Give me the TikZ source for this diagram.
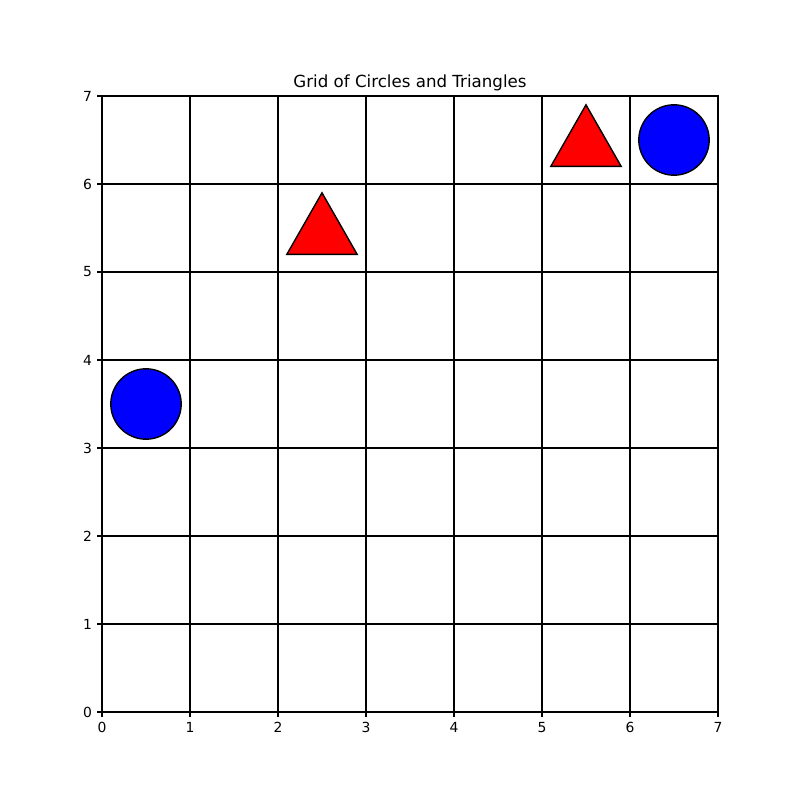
\documentclass[tikz,border=0pt]{standalone}
\usepackage{fontspec}
\setmainfont{DejaVu Sans}
\begin{document}
\begin{tikzpicture}[x=63.36pt,y=63.36pt,
  gridline/.style={line width=0.8pt,black},
  tickline/.style={line width=0.8pt,black},
  ticklab/.style={inner sep=0pt,font=\fontsize{10}{12}\selectfont},
  circ/.style={fill=blue,draw=black,line width=1pt},
  tri/.style={fill=red,draw=black,line width=1pt,line join=miter}]
\useasboundingbox (-1.159091,-1) rectangle (7.931818,8.090909);
\foreach \i in {1,...,6}{
  \draw[gridline] (\i,0) -- (\i,7);
  \draw[gridline] (0,\i) -- (7,\i);
}
\draw[gridline] (0,0) rectangle (7,7);
\foreach \i in {0,...,7}{
  \draw[tickline] (\i,0) -- ++(0,-3.5pt) coordinate (bx\i);
  \node[ticklab,anchor=north] (xl\i) at ([yshift=-3.5pt]bx\i) {\i};
  \draw[tickline] (0,\i) -- ++(-3.5pt,0) coordinate (ly\i);
  \node[ticklab,anchor=east] (yl\i) at ([xshift=-3.5pt]ly\i) {\i};
}
\node[inner sep=0pt,anchor=base,font=\fontsize{12}{14}\selectfont] (title) at (3.5,7.0947) {Grid of Circles and Triangles};
\draw[circ] (0.5,3.5) circle (0.4);
\draw[circ] (6.5,6.5) circle (0.4);
\draw[tri] (2.1,5.2) -- (2.9,5.2) -- (2.5,5.9) -- cycle;
\draw[tri] (5.1,6.2) -- (5.9,6.2) -- (5.5,6.9) -- cycle;
\end{tikzpicture}
\end{document}
